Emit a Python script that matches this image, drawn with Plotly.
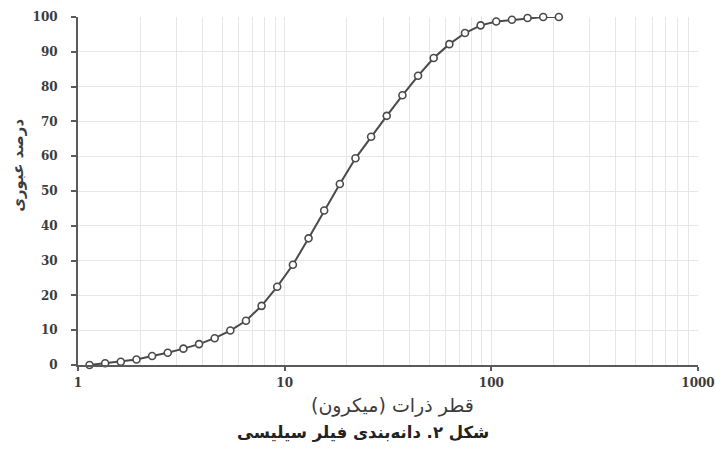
import plotly.graph_objects as go

# Particle size (micron) and percent passing
diameter_um = [1.137, 1.353, 1.611, 1.918, 2.283, 2.718, 3.236, 3.852, 4.585, 5.458,
               6.497, 7.734, 9.207, 10.96, 13.05, 15.53, 18.49, 22.01, 26.20, 31.19,
               37.13, 44.20, 52.61, 62.63, 74.56, 88.75, 105.6, 125.8, 149.7, 178.2, 212.2]
passing_pct = [0.0, 0.5, 0.95, 1.6, 2.6, 3.5, 4.7, 6.0, 7.7, 9.9,
               12.7, 17.0, 22.5, 28.8, 36.4, 44.4, 52.0, 59.4, 65.6, 71.6,
               77.5, 83.1, 88.2, 92.2, 95.4, 97.6, 98.7, 99.2, 99.7, 100.0, 100.0]

x_tickvals = [1, 10, 100, 1000]
x_ticktext = ["1", "10", "100", "1000"]
y_tickvals = [0, 10, 20, 30, 40, 50, 60, 70, 80, 90, 100]

x_title = "\u200fقطر ذرات (میکرون)\u200f"
y_title = "\u200fدرصد عبوری\u200f"
caption = "\u200fشکل ۲. دانه\u200cبندی فیلر سیلیسی\u200f"

TEXT = "#3c3c3c"
AXIS = "#5a5a5a"
GRID = "#e6e6e6"
PERSIAN = "DejaVu Sans"
NUM = "DejaVu Serif"

fig = go.Figure()
fig.add_trace(go.Scatter(
    x=diameter_um, y=passing_pct, mode="lines+markers",
    line=dict(color="#4a4a4a", width=2),
    marker=dict(symbol="circle", size=7, color="white",
                line=dict(color="#4a4a4a", width=1.6)),
    cliponaxis=False, showlegend=False, hoverinfo="skip",
))

fig.update_layout(
    width=715, height=449,
    margin=dict(l=78, r=17, t=17, b=84),
    paper_bgcolor="white", plot_bgcolor="white",
    font=dict(family=NUM, color=TEXT, size=12),
    xaxis=dict(
        type="log", range=[0, 3], automargin=False,
        tickvals=x_tickvals, ticktext=x_ticktext,
        tickfont=dict(family=NUM, size=12, color=TEXT, weight="bold"),
        showline=True, linecolor=AXIS, linewidth=2,
        ticks="outside", ticklen=4, tickcolor=AXIS, tickwidth=1.5,
        showgrid=True, gridcolor=GRID, gridwidth=1,
        minor=dict(dtick="D1", showgrid=True, gridcolor=GRID, gridwidth=1, ticks=""),
        zeroline=False, ticklabelstandoff=2,
    ),
    yaxis=dict(
        range=[0, 100], tickvals=y_tickvals, automargin=False,
        tickfont=dict(family=NUM, size=12, color=TEXT, weight="bold"),
        showline=True, linecolor=AXIS, linewidth=2,
        ticks="outside", ticklen=5, tickcolor=AXIS, tickwidth=1.5,
        showgrid=True, gridcolor=GRID, gridwidth=1,
        zeroline=False, ticklabelstandoff=11,
    ),
    annotations=[
        dict(text=x_title, xref="paper", yref="paper", x=0.508, y=-0.115,
             showarrow=False, xanchor="center", yanchor="middle",
             font=dict(family=PERSIAN, size=19, color=TEXT)),
        dict(text=caption, xref="paper", yref="paper", x=0.46, y=-0.195,
             showarrow=False, xanchor="center", yanchor="middle",
             font=dict(family=PERSIAN, size=16.5, color="#222222", weight="bold")),
        dict(text=y_title, xref="paper", yref="paper", x=-0.097, y=0.575,
             showarrow=False, xanchor="center", yanchor="middle", textangle=-90,
             font=dict(family=PERSIAN, size=15, color=TEXT, weight="bold")),
    ],
)

# remove the default body margin and scrollbars so the 715x449 figure fills the window exactly
page_fix = ("document.documentElement.style.overflow='hidden';"
            "document.body.style.margin='0px';"
            "document.body.style.overflow='hidden';")
fig.write_html("out.html", config={"displayModeBar": False}, post_script=page_fix)
